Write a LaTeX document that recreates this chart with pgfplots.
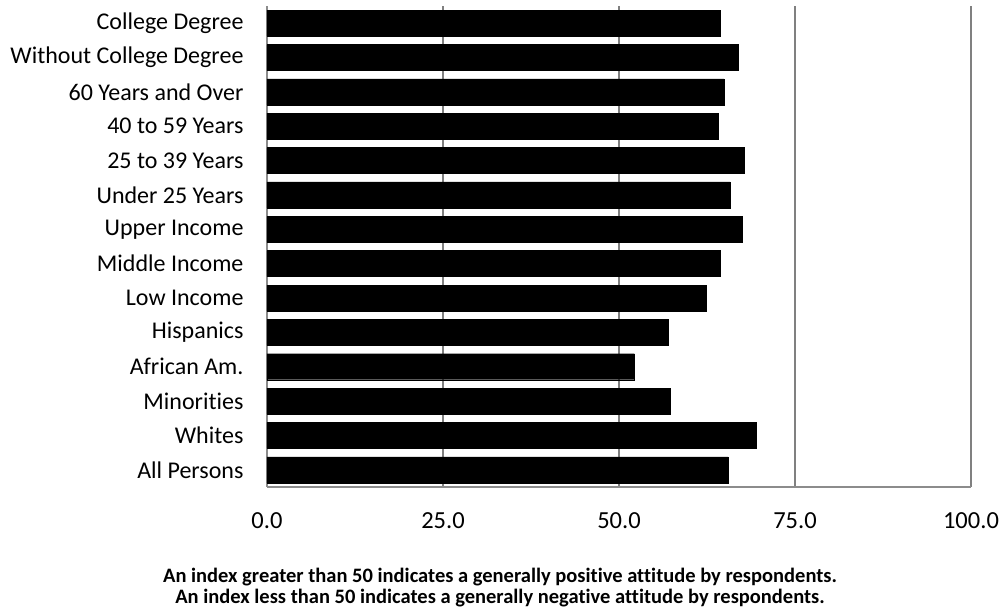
\documentclass[border=0pt]{standalone}
\usepackage{fontspec}
\setmainfont{Carlito}[Ligatures=NoCommon]
\usepackage{pgfplots}
\pgfplotsset{compat=1.18}
\begin{document}
\begin{tikzpicture}[x=1pt,y=1pt]
\path[use as bounding box] (0,0) rectangle (1005,612);
\begin{axis}[at={(267pt,125pt)}, anchor=south west, scale only axis,
  width=704pt, height=481pt,
  xbar, xmin=0, xmax=100, ymin=-0.5, ymax=13.5,
  bar width=26pt,
  xtick={0,25,50,75,100}, xticklabels={0.0,25.0,50.0,75.0,100.0},
  ytick={0,...,13},
  yticklabels={All Persons,Whites,Minorities,African Am.,Hispanics,Low Income,Middle Income,Upper Income,Under 25 Years,25 to 39 Years,40 to 59 Years,60 Years and Over,Without College Degree,College Degree},
  axis x line*=bottom, axis y line*=left,
  axis line style={black!45, line width=2pt, -},
  xmajorgrids, grid style={black!50, line width=1.3pt},
  major tick length=0pt,
  xticklabel style={font=\fontsize{24.5}{28}\selectfont, yshift=-22pt},
  yticklabel style={font=\fontsize{24}{28}\selectfont, xshift=-20pt},
]
\addplot[fill=black, draw=black] coordinates {
(65.5,0) (69.5,1) (57.3,2) (52.2,3) (57.0,4) (62.4,5) (64.4,6)
(67.5,7) (65.8,8) (67.8,9) (64.1,10) (64.9,11) (66.9,12) (64.4,13)};
\end{axis}
\node[font=\bfseries\fontsize{20.5}{24}\selectfont] at (500,35) {An index greater than 50 indicates a generally positive attitude by respondents.};
\node[font=\bfseries\fontsize{20.5}{24}\selectfont] at (500,14) {An index less than 50 indicates a generally negative attitude by respondents.};
\end{tikzpicture}
\end{document}
